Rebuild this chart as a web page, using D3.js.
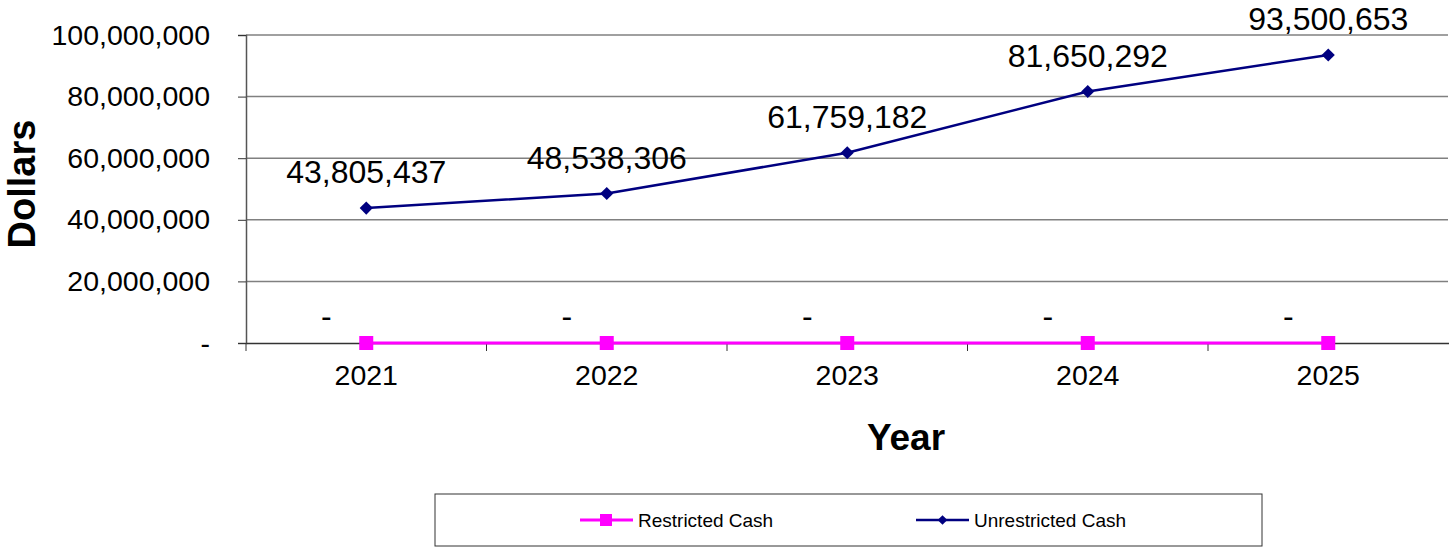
<!DOCTYPE html>
<html lang="en">
<head>
  <meta charset="UTF-8">
  <title>Cash</title>
  <style>
    body { margin: 0; background: #fff; }
    svg text { font-family: Arial, "Liberation Sans", sans-serif; fill: #000; }
  </style>
</head>
<body>
  <div id="chart"></div>
  <script src="https://cdn.jsdelivr.net/npm/d3@7"></script>
  <script>
    var years = ['2021', '2022', '2023', '2024', '2025'];
    var restricted = [0, 0, 0, 0, 0];
    var unrestricted = [43805437, 48538306, 61759182, 81650292, 93500653];
    var yTicks = [0, 20000000, 40000000, 60000000, 80000000, 100000000];

    var W = 1449, H = 548;
    var m = {left: 246, right: 0.5, top: 35, bottom: 205};
    var FONT = 'Arial, "Liberation Sans", sans-serif';

    var svg = d3.select('#chart').append('svg')
      .attr('width', W).attr('height', H);

    var x = d3.scaleBand().domain(years).range([m.left, W - m.right]);
    var y = d3.scaleLinear().domain([0, 100000000]).range([H - m.bottom, m.top]);

    var fmt = function(v) { return v === 0 ? '-' : d3.format(',')(v); };

    // grid
    svg.append('g').selectAll('line').data(yTicks.slice(1)).enter().append('line')
      .attr('x1', m.left).attr('x2', W - 1)
      .attr('y1', d => y(d)).attr('y2', d => y(d))
      .attr('stroke', '#808080').attr('stroke-width', 1.5);

    // y axis
    var ya = svg.append('g').attr('transform', 'translate(' + m.left + ',0)')
      .call(d3.axisLeft(y).tickValues(yTicks).tickFormat(fmt).tickSize(8).tickPadding(28));
    ya.select('.domain').attr('stroke', '#555').attr('stroke-width', 1.5);
    ya.selectAll('line').attr('stroke', '#333');
    ya.selectAll('text').style('font-size', '28.5px').style('font-family', FONT);

    // x axis
    var xa = svg.append('g').attr('transform', 'translate(0,' + y(0) + ')')
      .call(d3.axisBottom(x).tickSize(0).tickPadding(22));
    xa.select('.domain').attr('stroke', '#333').attr('stroke-width', 1.5);
    xa.selectAll('text').style('font-size', '28.5px').style('font-family', FONT);
    // category separators
    xa.selectAll('line.sep').data(years.slice(1)).enter().append('line')
      .attr('class', 'sep')
      .attr('x1', d => x(d)).attr('x2', d => x(d))
      .attr('y1', 0).attr('y2', 8)
      .attr('stroke', '#333');
    xa.append('line').attr('x1', m.left).attr('x2', m.left).attr('y1', 0).attr('y2', 8).attr('stroke', '#333');

    var cx = d => x(d) + x.bandwidth() / 2;

    // restricted
    var line = d3.line().x((d, i) => cx(years[i])).y(d => y(d));
    svg.append('path').datum(restricted).attr('d', line)
      .attr('fill', 'none').attr('stroke', '#FF00FF').attr('stroke-width', 3);
    svg.selectAll('rect.rm').data(restricted).enter().append('rect')
      .attr('class', 'rm')
      .attr('x', (d, i) => cx(years[i]) - 7).attr('y', d => y(d) - 7)
      .attr('width', 14).attr('height', 14).attr('fill', '#FF00FF');
    svg.selectAll('text.rl').data(restricted).enter().append('text')
      .attr('class', 'rl')
      .attr('x', (d, i) => cx(years[i]) - 40).attr('y', d => y(d) - 16)
      .attr('text-anchor', 'middle').style('font-size', '32px')
      .text(fmt);

    // unrestricted
    svg.append('path').datum(unrestricted).attr('d', line)
      .attr('fill', 'none').attr('stroke', '#000080').attr('stroke-width', 2.5);
    var diamond = d3.symbol().type(d3.symbolDiamond2).size(110);
    svg.selectAll('path.um').data(unrestricted).enter().append('path')
      .attr('class', 'um')
      .attr('transform', (d, i) => 'translate(' + cx(years[i]) + ',' + y(d) + ')')
      .attr('d', diamond).attr('fill', '#000080');
    svg.selectAll('text.ul').data(unrestricted).enter().append('text')
      .attr('class', 'ul')
      .attr('x', (d, i) => cx(years[i])).attr('y', d => y(d) - 25)
      .attr('text-anchor', 'middle').style('font-size', '32px')
      .text(fmt);

    // axis titles
    svg.append('text').attr('transform', 'translate(35,184) rotate(-90)')
      .attr('text-anchor', 'middle').style('font-size', '38px').style('font-weight', 'bold')
      .text('Dollars');
    svg.append('text').attr('x', 906).attr('y', 450)
      .attr('text-anchor', 'middle').style('font-size', '37px').style('font-weight', 'bold')
      .text('Year');

    // legend
    var lg = svg.append('g');
    lg.append('rect').attr('x', 435).attr('y', 494).attr('width', 827).attr('height', 52)
      .attr('fill', '#fff').attr('stroke', '#333').attr('stroke-width', 1);
    var items = [
      {name: 'Restricted Cash', color: '#FF00FF', x: 580, sq: true},
      {name: 'Unrestricted Cash', color: '#000080', x: 916, sq: false}
    ];
    items.forEach(function(it) {
      lg.append('line').attr('x1', it.x).attr('x2', it.x + 53).attr('y1', 520).attr('y2', 520)
        .attr('stroke', it.color).attr('stroke-width', it.sq ? 3 : 2.5);
      if (it.sq) {
        lg.append('rect').attr('x', it.x + 20).attr('y', 514).attr('width', 12).attr('height', 12).attr('fill', it.color);
      } else {
        lg.append('path').attr('transform', 'translate(' + (it.x + 26.5) + ',520)')
          .attr('d', d3.symbol().type(d3.symbolDiamond2).size(60)).attr('fill', it.color);
      }
      lg.append('text').attr('x', it.x + 58).attr('y', 527).style('font-size', '19px').text(it.name);
    });
  </script>
</body>
</html>
